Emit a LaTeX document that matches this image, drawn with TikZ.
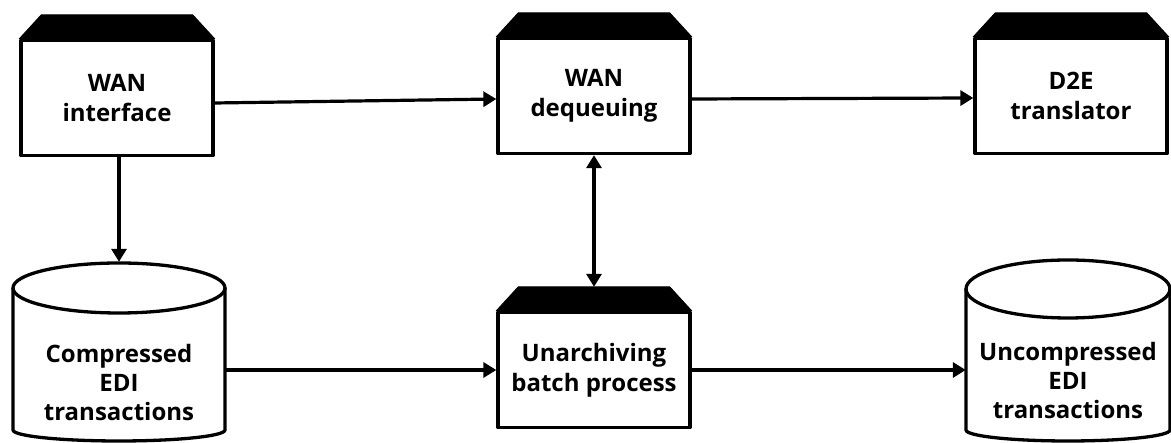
\documentclass[tikz,border=0pt]{standalone}
\usepackage{fontspec}
\setmainfont{Open Sans}
\usetikzlibrary{arrows.meta,calc}

\tikzset{
  outline/.style={line width=3.3pt, line join=round},
  procbox/.style={outline, draw, fill=white, minimum width=192pt, minimum height=115pt,
    align=center, font=\bfseries\fontsize{24}{30}\selectfont, inner sep=0pt},
  boxlid/.style={fill=black, draw=black, line width=1pt, line join=round},
  dbarea/.style={minimum width=212pt, minimum height=181pt, inner sep=0pt},
  dbtext/.style={align=center, font=\bfseries\fontsize{24}{29}\selectfont, inner sep=0pt},
  flow/.style={line width=3.2pt, -{Triangle[length=13pt,width=15pt]}},
  flowboth/.style={line width=3.2pt, {Triangle[length=13pt,width=15pt]}-{Triangle[length=13pt,width=15pt]}},
}

\begin{document}
\begin{tikzpicture}[x=1pt, y=1pt]
\useasboundingbox (0,0) rectangle (1171,443);

% process boxes
\node[procbox] (wan) at (117,345) {WAN\\interface};
\node[procbox] (deq) at (594,347) {WAN\\dequeuing};
\node[procbox] (d2e) at (1071,347) {D2E\\translator};
\node[procbox] (una) at (594,73) {Unarchiving\\batch process};

% dark lids on top of the process boxes
\foreach \n in {wan,deq,d2e,una}{
  \fill[boxlid] (\n.north west) -- ([xshift=22pt,yshift=24pt]\n.north west)
    -- ([xshift=-22pt,yshift=24pt]\n.north east) -- (\n.north east) -- cycle;
}

% data stores (cylinders)
\node[dbarea] (cmp) at (119,90.5) {};
\node[dbtext] (cmptxt) at (119,60) {Compressed\\EDI\\transactions};
\draw[outline] (13,155) -- (13,13) arc[start angle=180, end angle=360, x radius=106, y radius=11] -- (225,155);
\draw[outline] (119,155) ellipse[x radius=106, y radius=25];

\node[dbarea, minimum width=204pt] (ucmp) at (1068,92) {};
\node[dbtext] (ucmptxt) at (1068,62) {Uncompressed\\EDI\\transactions};
\draw[outline] (966,154) -- (966,13) arc[start angle=180, end angle=360, x radius=102, y radius=11] -- (1170,154);
\draw[outline] (1068,154) ellipse[x radius=102, y radius=29];

% flows
\draw[flow] ([yshift=-5pt]wan.east) -- ([yshift=-3pt]deq.west);
\draw[flow] ([yshift=-3pt]deq.east) -- ([yshift=-2pt]d2e.west);
\draw[flow] ([xshift=2pt]wan.south) -- ([xshift=2pt]wan.south |- cmp.north);
\draw[flowboth] (deq.south) -- ([yshift=24pt]una.north);
\draw[flow] (cmp.east |- una.west) -- (una.west);
\draw[flow] (una.east) -- (una.east -| ucmp.west);
\end{tikzpicture}
\end{document}
